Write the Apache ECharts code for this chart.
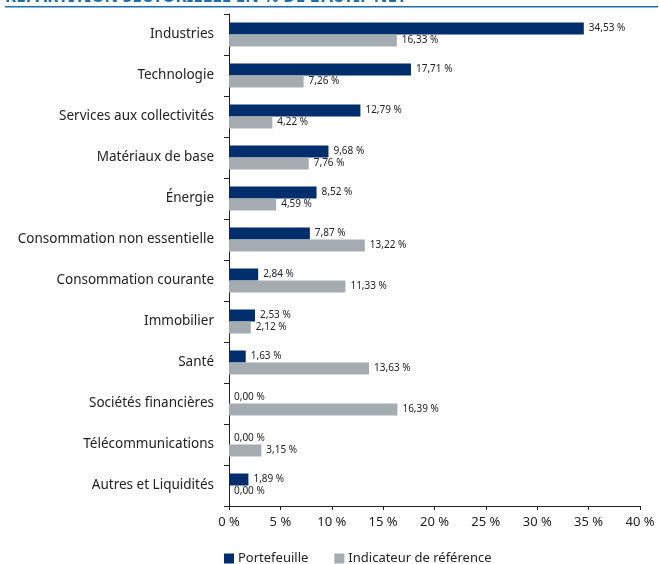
<!DOCTYPE html>
<html><head><meta charset="utf-8">
<script src="https://cdn.jsdelivr.net/npm/echarts@6/dist/echarts.min.js"></script>
<style>html,body{margin:0;padding:0;background:#fff}#c{width:659px;height:564px}</style>
</head><body><div id="c"></div>
<script>
const categories = ["Industries","Technologie","Services aux collectivités","Matériaux de base","Énergie","Consommation non essentielle","Consommation courante","Immobilier","Santé","Sociétés financières","Télécommunications","Autres et Liquidités"];
const portefeuille = [34.53,17.71,12.79,9.68,8.52,7.87,2.84,2.53,1.63,0.00,0.00,1.89];
const indicateur = [16.33,7.26,4.22,7.76,4.59,13.22,11.33,2.12,13.63,16.39,3.15,0.00];
const seriesNames = ["Portefeuille","Indicateur de référence"];
const titleText = "RÉPARTITION SECTORIELLE EN % DE L'ACTIF NET";

const FONT = "Noto Sans";
const fmt = v => v.toFixed(2).replace('.', ',') + ' %';
const chart = echarts.init(document.getElementById('c'));
const lbl = {show:true, position:'right', distance:5, fontSize:10, color:'#222', fontFamily:FONT, formatter:p=>fmt(p.value)};
chart.setOption({
  animation:false,
  textStyle:{fontFamily:FONT},
  graphic:[
    {type:'text', x:5, y:-11, style:{text:titleText, fill:'#1f6fad', font:'bold 17px "Noto Sans"', verticalAlign:'top'}},
    {type:'rect', shape:{x:5, y:6, width:653, height:1.5}, style:{fill:'#1f6fad'}}
  ],
  legend:{left:219, top:547, itemWidth:10, itemHeight:10, itemGap:26, icon:'rect',
    textStyle:{fontSize:13, color:'#222', fontFamily:FONT, padding:[0,0,0,-1]}, data:seriesNames},
  grid:{left:229, right:19, top:14, bottom:58, containLabel:false},
  xAxis:{type:'value', min:0, max:40, interval:5,
    axisLine:{show:true, lineStyle:{color:'#222'}},
    axisTick:{show:true, length:4, lineStyle:{color:'#222'}},
    splitLine:{show:false},
    axisLabel:{fontSize:13, color:'#222', margin:10, formatter:v=>v+' %'}},
  yAxis:{type:'category', inverse:true, data:categories,
    axisLine:{show:true, lineStyle:{color:'#222'}},
    axisTick:{show:true, length:5, lineStyle:{color:'#222'}},
    axisLabel:{fontSize:13.5, color:'#222', margin:15}},
  series:[
    {name:seriesNames[0], type:'bar', data:portefeuille, barWidth:12, barGap:'0%', barCategoryGap:'41%',
      itemStyle:{color:'#002d6b'}, label:lbl},
    {name:seriesNames[1], type:'bar', data:indicateur, barWidth:12,
      itemStyle:{color:'#a4abb1'}, label:lbl}
  ]
});
</script></body></html>
